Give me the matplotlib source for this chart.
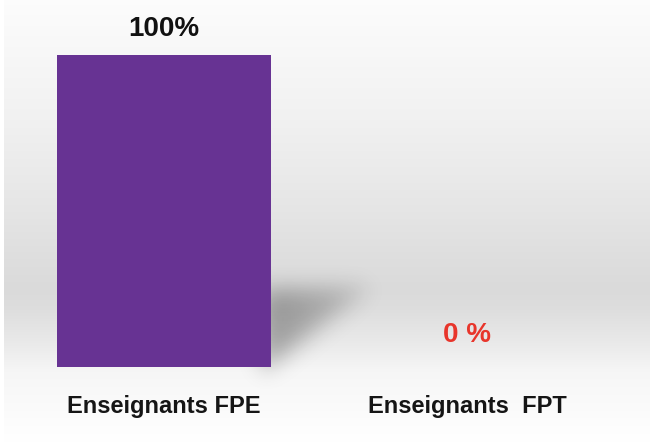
import numpy as np
import matplotlib.pyplot as plt
from matplotlib.path import Path

# data
categories = ['Enseignants FPE', 'Enseignants  FPT']
values = [100, 0]
value_labels = ['100%', '0 %']
label_colors = ['#111111', '#e8352b']
bar_color = '#673393'

W, H = 654, 442
fig = plt.figure(figsize=(W / 100, H / 100), dpi=100)

# background: vertical grey gradient in pixel coordinates
bg = fig.add_axes([0, 0, 1, 1])
bg.set_xlim(0, W)
bg.set_ylim(H, 0)
bg.axis('off')
stops_y = [0, 40, 120, 200, 260, 290, 310, 345, 372, 442]
stops_v = [0.99, 0.975, 0.945, 0.905, 0.87, 0.855, 0.87, 0.92, 0.965, 1.0]
yy = np.arange(H) + 0.5
prof = np.interp(yy, stops_y, stops_v)
img = np.repeat(prof[:, None], W, axis=1)
img[:, :4] = 1.0
img[:, W - 4:] = 1.0
bg.imshow(np.dstack([img] * 3), extent=[0, W, H, 0], aspect='auto', interpolation='bilinear')

# soft shadow of the bar falling to the right
xx, yg = np.meshgrid(np.arange(W) + 0.5, yy)
tri = Path([(262, 290), (372, 287), (262, 372)])
mask = tri.contains_points(np.c_[xx.ravel(), yg.ravel()]).reshape(H, W).astype(float)
k = np.exp(-0.5 * (np.arange(-40, 41) / 11.0) ** 2)
k /= k.sum()
mask = np.apply_along_axis(lambda r: np.convolve(r, k, mode='same'), 1, mask)
mask = np.apply_along_axis(lambda c: np.convolve(c, k, mode='same'), 0, mask)
fade = np.clip(1 - (xx - 268) / 140, 0, 1)
alpha = np.clip(mask * (0.3 + 0.7 * fade) * 0.33, 0, 1)
shadow = np.zeros((H, W, 4))
shadow[..., 3] = alpha
bg.imshow(shadow, extent=[0, W, H, 0], aspect='auto', interpolation='bilinear')

# bar chart
ax = fig.add_axes([12.5 / W, (H - 367) / H, 606 / W, 312 / H])
ax.patch.set_alpha(0)
x = np.arange(len(categories))
ax.bar(x, values, width=0.706, color=bar_color, zorder=3)
ax.set_xlim(-0.5, 1.5)
ax.set_ylim(0, 100)
for s in ax.spines.values():
    s.set_visible(False)
ax.set_yticks([])
ax.set_xticks(x)
ax.set_xticklabels(categories, fontsize=17, fontweight='bold', color='#151515',
                   family=['Liberation Sans', 'DejaVu Sans'])
ax.tick_params(axis='x', length=0, pad=20)

offsets = [19, 23]
for xi, v, lab, c, off in zip(x, values, value_labels, label_colors, offsets):
    ax.annotate(lab, (xi, v), xytext=(0, off), textcoords='offset points',
                ha='center', va='center', fontsize=20, fontweight='bold', color=c,
                family=['Liberation Sans', 'DejaVu Sans'], annotation_clip=False)

fig.savefig('out.png', dpi=100)
